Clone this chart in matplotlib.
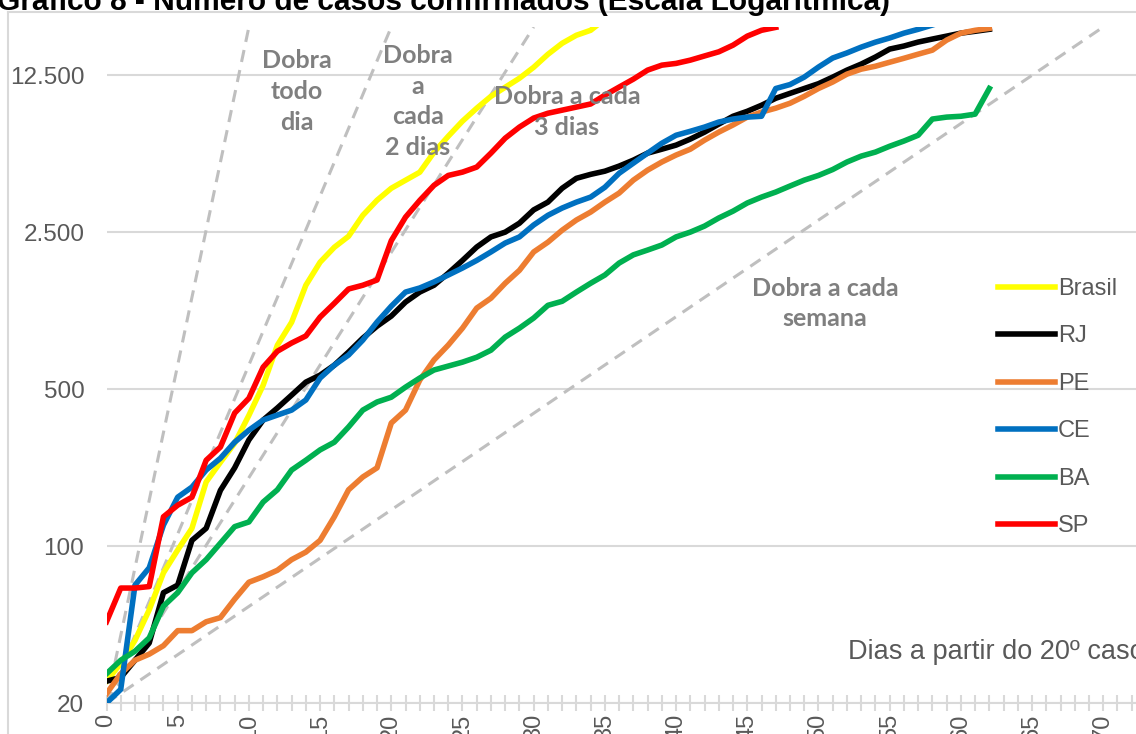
import numpy as np
import matplotlib
matplotlib.use("Agg")
import matplotlib.pyplot as plt
from matplotlib.ticker import MultipleLocator, NullLocator
from matplotlib.lines import Line2D

# casos confirmados por dia, a partir do 20o caso
brasil = [25, 30, 38, 52, 76, 96, 120, 193, 236, 287, 382, 520, 784, 992, 1450, 1836,
          2140, 2396, 2970, 3467, 3919, 4256, 4620, 5668, 6680, 7800, 8906, 10060,
          11040, 12110, 13550, 15480, 17330, 18820, 19800, 22200]
rj = [25, 26, 31, 37, 62, 67, 106, 120, 177, 223, 297, 364, 412, 470, 537, 577, 639,
      731, 843, 953, 1057, 1220, 1352, 1450, 1640, 1870, 2145, 2380, 2500, 2740, 3140,
      3400, 3920, 4340, 4520, 4670, 4920, 5230, 5620, 5850, 6100, 6490, 6970, 7570,
      8200, 8630, 9180, 9860, 10370, 10900, 11450, 12250, 13160, 14000, 15050, 16330,
      16850, 17550, 18100, 18650, 19230, 19600, 20000]
pe = [22, 27, 31, 33, 36, 42, 42, 46, 48, 58, 69, 73, 78, 87, 94, 106, 135, 178, 203,
      223, 353, 403, 548, 674, 785, 934, 1147, 1270, 1480, 1690, 2040, 2255, 2550, 2830,
      3070, 3400, 3730, 4260, 4720, 5130, 5510, 5850, 6420, 6970, 7500, 8130, 8560,
      8910, 9370, 10060, 10900, 11650, 12630, 13290, 13700, 14270, 14860, 15500,
      16150, 17900, 19230, 19800, 20200]
ce = [20, 23, 67, 80, 124, 165, 183, 218, 246, 290, 328, 364, 383, 403, 447, 560, 639,
      709, 826, 994, 1170, 1352, 1410, 1500, 1610, 1730, 1870, 2040, 2235, 2380, 2690,
      2970, 3200, 3400, 3580, 3960, 4570, 5070, 5620, 6220, 6750, 7030, 7340, 7730,
      7970, 8130, 8200, 10900, 11350, 12250, 13580, 14900, 15700, 16660, 17530, 18300,
      19230, 20000, 20900]
ba = [27, 31, 34, 39, 54, 62, 76, 87, 103, 122, 128, 157, 178, 218, 241, 268, 290, 339,
      403, 438, 460, 510, 560, 608, 633, 659, 693, 745, 852, 934, 1036, 1180, 1230,
      1352, 1480, 1610, 1820, 1980, 2080, 2190, 2380, 2500, 2660, 2890, 3100, 3370,
      3580, 3770, 4010, 4260, 4470, 4750, 5130, 5450, 5680, 6030, 6360, 6750, 7970,
      8130, 8200, 8380, 10900]
sp = [46, 65, 65, 66, 135, 152, 165, 241, 276, 391, 455, 626, 737, 802, 862, 1046, 1205,
      1395, 1450, 1530, 2290, 2915, 3460, 4040, 4470, 4625, 4870, 5620, 6550, 7340,
      8050, 8460, 8730, 9010, 9300, 10180, 11060, 12000, 13160, 13850, 14100, 14580,
      15220, 15880, 17000, 18650, 19800, 20400]

series = [("Brasil", brasil, "#ffff00"), ("RJ", rj, "#000000"), ("PE", pe, "#ed7d31"),
          ("CE", ce, "#0070c0"), ("BA", ba, "#00b050"), ("SP", sp, "#ff0000")]

# linhas de referencia: dobra a cada 1, 2, 3 e 7 dias (de 20 ate 20*2^10)
ref_x_fim = [10, 20, 30, 70]
ref_y = [20, 20480]

y_ticks = [20, 100, 500, 2500, 12500]
y_labels = ["20", "100", "500", "2.500", "12.500"]

plt.rcParams["font.family"] = ["Liberation Sans", "DejaVu Sans"]
W, H = 1136, 734
fig = plt.figure(figsize=(W / 100, H / 100), dpi=100)
ax = fig.add_axes([106.5 / W, 1 - 703 / H, 1 - 106.5 / W, (703 - 27) / H])

for xf in ref_x_fim:
    ax.plot([0, xf], ref_y, color="#bfbfbf", lw=2.2, dashes=(4, 2.7), zorder=1)

for nome, vals, cor in series:
    ax.plot(np.arange(len(vals)), vals, color=cor, lw=4, label=nome,
            solid_joinstyle="round", zorder=3)

ax.set_yscale("log")
ax.set_ylim(20, 20480)
ax.set_xlim(0, 72.3)
ax.set_yticks(y_ticks)
ax.set_yticklabels(y_labels)
ax.yaxis.set_minor_locator(NullLocator())
ax.yaxis.grid(True, color="#d9d9d9", lw=1.5, zorder=0)
ax.set_axisbelow(True)

ax.xaxis.set_major_locator(MultipleLocator(5))
ax.xaxis.set_minor_locator(MultipleLocator(1))
ax.tick_params(axis="x", which="both", direction="inout", length=11, width=1.5,
               color="#d9d9d9")
ax.tick_params(axis="x", which="major", labelsize=17, labelcolor="#595959",
               labelrotation=90, pad=2)
ax.tick_params(axis="y", length=0, pad=16, labelsize=17.5, labelcolor="#595959")

for s in ["left", "right", "top"]:
    ax.spines[s].set_visible(False)
ax.spines["bottom"].set_color("#d9d9d9")
ax.spines["bottom"].set_linewidth(1.5)

ax.legend(loc="upper left", bbox_to_anchor=(998 / W, 1 - 278 / H),
          bbox_transform=fig.transFigure, frameon=False, fontsize=17,
          labelcolor="#595959", handlelength=2.4, handletextpad=0.15,
          labelspacing=1.08, borderpad=0, borderaxespad=0)

# textos das linhas de referencia
anot = dict(family=["Lato", "DejaVu Sans"], fontweight="bold", fontsize=18,
            color="#7f7f7f", ha="center", va="center", linespacing=1.4,
            multialignment="center")
fig.text(297 / W, 1 - 91.5 / H, "Dobra\ntodo\ndia", **anot)
fig.text(418 / W, 1 - 101.5 / H, "Dobra\na\ncada\n2 dias", **anot)
fig.text(567 / W, 1 - 112 / H, "Dobra a cada\n3 dias", **anot)
fig.text(825 / W, 1 - 303.5 / H, "Dobra a cada\nsemana", **anot)

fig.text(848 / W, 1 - 652 / H, "Dias a partir do 20º caso", fontsize=19.5,
         color="#595959", ha="left", va="center")

fig.text(-0.003, 1 - 10 / H,
         "Gráfico 8 - Número de casos confirmados (Escala Logarítmica)",
         fontsize=21.5, fontweight="bold", va="baseline", ha="left")

# borda da area do grafico
fig.add_artist(Line2D([8 / W, 8 / W], [-0.1, 1 - 12 / H], color="#d9d9d9", lw=1.5))
fig.add_artist(Line2D([8 / W, 1.1], [1 - 12 / H, 1 - 12 / H], color="#d9d9d9", lw=1.5))

fig.savefig("out.png", dpi=100)
